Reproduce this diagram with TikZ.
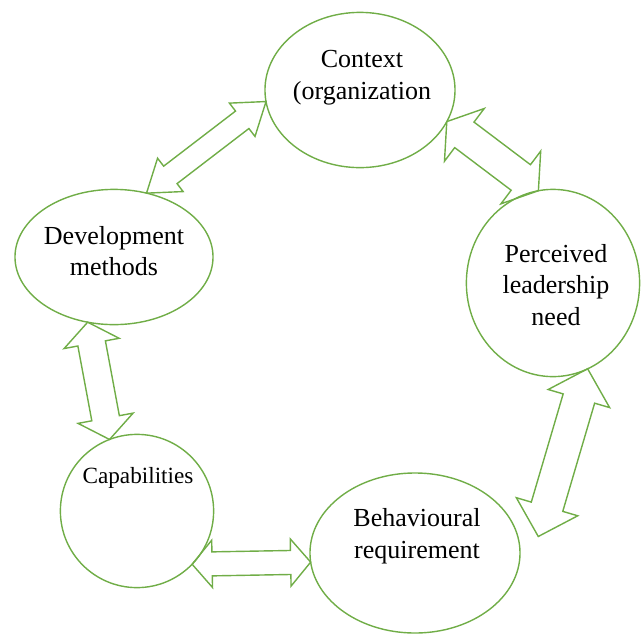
\documentclass[tikz,border=0pt]{standalone}
\usepackage{fontspec}
\setmainfont{Liberation Serif}
\usetikzlibrary{shapes.geometric,calc}

\definecolor{ringgreen}{RGB}{112,173,71}

\tikzset{
  ring/.style={draw=ringgreen, line width=1pt, ellipse, inner sep=0pt, outer sep=0pt},
  lbl/.style={align=center, font=\fontsize{18.5}{22.5}\selectfont},
  arrowline/.style={draw=ringgreen, line width=1pt, line join=miter}
}

% double block arrow: from, to, shaft half width, head half width, head length
\newcommand{\dblarrow}[5]{%
  \path ($(#1)!#5!(#2)$) coordinate (hA) ($(#2)!#5!(#1)$) coordinate (hB);
  \draw[arrowline] (#1) -- ($(hA)!#4!90:(#2)$) -- ($(hA)!#3!90:(#2)$)
    -- ($(hB)!#3!-90:(#1)$) -- ($(hB)!#4!-90:(#1)$) -- (#2)
    -- ($(hB)!#4!90:(#1)$) -- ($(hB)!#3!90:(#1)$)
    -- ($(hA)!#3!-90:(#2)$) -- ($(hA)!#4!-90:(#2)$) -- cycle;
}

\begin{document}
\begin{tikzpicture}[x=0.025cm, y=-0.025cm]
    \useasboundingbox (0,0) rectangle (641,634);

    \node[ring, minimum width=4.75cm, minimum height=3.88cm] (ctx) at (360,90) {};
    \node[lbl] (ctxt) at (362,78) {Context\\(organization};

    \node[ring, minimum width=4.33cm, minimum height=4.68cm] (perc) at (553,283) {};
    \node[lbl] (perct) at (556,285) {Perceived\\leadership\\need};

    \node[ring, minimum width=4.95cm, minimum height=3.38cm] (dev) at (114,257) {};
    \node[lbl] (devt) at (114,251) {Development\\methods};

    \node[ring, minimum width=3.83cm, minimum height=3.83cm] (cap) at (137,511) {};
    \node[lbl, font=\fontsize{16.5}{20}\selectfont] (capt) at (138,478) {Capabilities};

    \node[ring, minimum width=5.25cm, minimum height=4cm] (beh) at (415,553) {};
    \node[lbl] (beht) at (417,536) {Behavioural\\requirement};

    % loose end of the lower right arrow
    \coordinate (behEnd) at ($(beh.8)+(20,-2)$);

    \dblarrow{dev.63}{ctx.187}{0.275cm}{0.525cm}{0.75cm}
    \dblarrow{ctx.340}{perc.99}{0.4cm}{0.825cm}{0.55cm}
    \dblarrow{perc.292}{behEnd}{0.41cm}{0.8cm}{0.775cm}
    \dblarrow{cap.316}{beh.185}{0.3cm}{0.59cm}{0.5cm}
    \dblarrow{dev.248}{cap.111}{0.35cm}{0.7cm}{0.54cm}
\end{tikzpicture}
\end{document}
